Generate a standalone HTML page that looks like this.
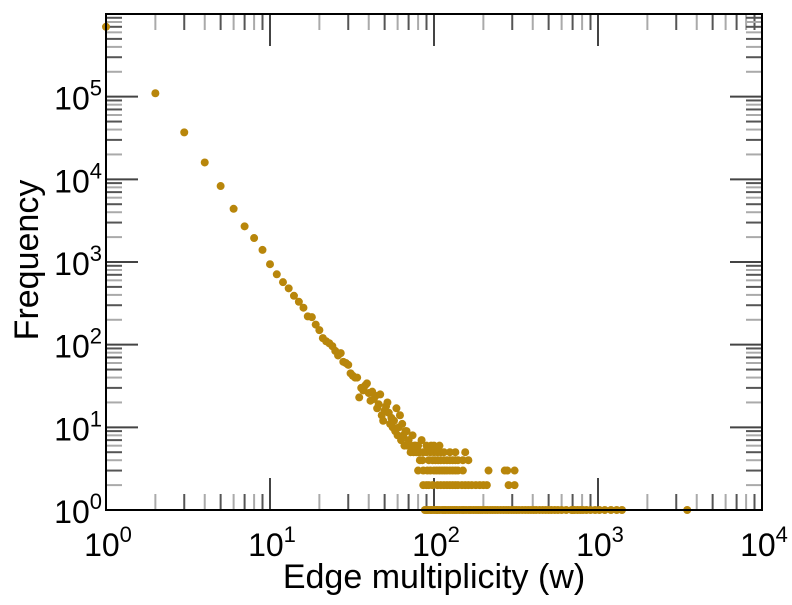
<!DOCTYPE html>
<html><head><meta charset="utf-8"><style>
body{margin:0;background:#fff;}
svg text{font-family:"Liberation Sans",sans-serif;fill:#000;}
</style></head><body>
<svg id="chart" width="792" height="600" viewBox="0 0 792 600" xmlns="http://www.w3.org/2000/svg">
<g id="ticks"></g>
<g id="points"></g>
<rect x="106" y="14" width="656" height="496" fill="none" stroke="#000" stroke-width="2"/>
<g id="labels"></g>
<text x="434" y="588" font-size="34" text-anchor="middle">Edge multiplicity (w)</text>
<text transform="translate(38,260) rotate(-90)" font-size="34" text-anchor="middle">Frequency</text>
</svg>
<script>
const xDecades = [0,1,2,3,4];
const yDecades = [0,1,2,3,4,5];
const headW = [1,2,3,4,5,6,7,8,9,10,11,12,13,14,15,16,17,18,19,20,21,22,23,24,25,26,27,28,29,30,31,32,33,34,35,36,37,38,39,40,41,42,43,44,45,46,47,48,49,50,51,52,53,54,55,56,57,58,59,60,61,62,63,64,65,66,67,68,69,70,72,74,76,80,84];
const headF = [700000,110000,37000,16000,8300,4400,2700,1950,1400,940,710,570,480,390,330,280,220,215,175,150,120,110,104,96,84,74,79,62,60,57,45,42,40,40,23,30,28,32,34,26,21,27,22,24,17,19,25,14,12,16,18,20,15,11,13,10,12,9,17,8,10,14,7,11,8,6,9,9,6,7,5,8,6,5,7];
const tail1 = [88,90,92,95,97,100,103,105,108,112,115,118,122,126,130,134,138,143,148,152,157,163,168,174,180,186,192,198,205,212,220,228,236,245,255,265,275,285,296,307,318,330,345,360,375,390,405,420,440,460,480,500,520,545,570,600,640,690,700,720,750,780,810,850,900,960,1020,1100,1200,1300,1400,3500];
const tail2 = [86,90,93,98,105,110,115,120,125,130,135,140,148,155,162,170,180,190,200,210,285,310];
const tail3 = [80,86,91,95,100,104,108,112,116,120,125,130,135,140,150,215,270,280,310];
const tail4 = [82,85,93,98,102,106,110,115,120,125,130,135,140,150,162];
const tail5 = [75,78,82,86,90,95,100,105,110,115,125,135,155];
const tail6 = [72,77,80,90,96,100,108];

const X0=106,X1=762,Y0=510,Y1=14;
const xs = w => X0 + (Math.log10(w)-0)/4*(X1-X0);
const ys = f => Y0 - (Math.log10(f)-0)/6*(Y0-Y1);
const NS="http://www.w3.org/2000/svg";
const tg=document.getElementById('ticks'), pg=document.getElementById('points'), lg=document.getElementById('labels');
function line(x1,y1,x2,y2,c){const l=document.createElementNS(NS,'line');
l.setAttribute('x1',x1);l.setAttribute('y1',y1);l.setAttribute('x2',x2);l.setAttribute('y2',y2);
l.setAttribute('stroke',c);l.setAttribute('stroke-width',2);


tg.appendChild(l);}
for(let d=0;d<4;d++){for(let m=1;m<=9;m++){const x=xs(Math.pow(10,d)*m);const L=m==1?32:16;const c=(m%2==0)?'#aaa':'#555';
if(m>1||d>0){line(x,Y0,x,Y0-L,m==1?'#444':c);line(x,Y1,x,Y1+L,m==1?'#444':c);}}}
for(let d=0;d<6;d++){for(let m=1;m<=9;m++){const y=ys(Math.pow(10,d)*m);const L=m==1?32:16;const c=(m%2==0)?'#aaa':'#555';
if(m>1||d>0){line(X0,y,X0+L,y,m==1?'#444':c);line(X1,y,X1-L,y,m==1?'#444':c);}}}
function lab(x,y,e,anchor,name){const t=document.createElementNS(NS,'text');t.setAttribute('x',x);t.setAttribute('y',y);t.setAttribute('font-size','32');t.setAttribute('text-anchor',anchor);


t.innerHTML='10<tspan dy="-14" font-size="22">'+e+'</tspan>';lg.appendChild(t);}
xDecades.forEach(d=>lab(xs(Math.pow(10,d))+2,556,d,'middle','x-tick-label'));
yDecades.forEach(d=>lab(102,ys(Math.pow(10,d))+13,d,'end','y-tick-label'));
function dot(w,f){const c=document.createElementNS(NS,'circle');c.setAttribute('cx',xs(w));c.setAttribute('cy',ys(f));c.setAttribute('r',4);c.setAttribute('fill','#b8860b');


pg.appendChild(c);}
headW.forEach((w,i)=>dot(w,headF[i]));
[[tail1,1],[tail2,2],[tail3,3],[tail4,4],[tail5,5],[tail6,6]].forEach(([a,f])=>a.forEach(w=>dot(w,f)));
</script>
</body></html>
